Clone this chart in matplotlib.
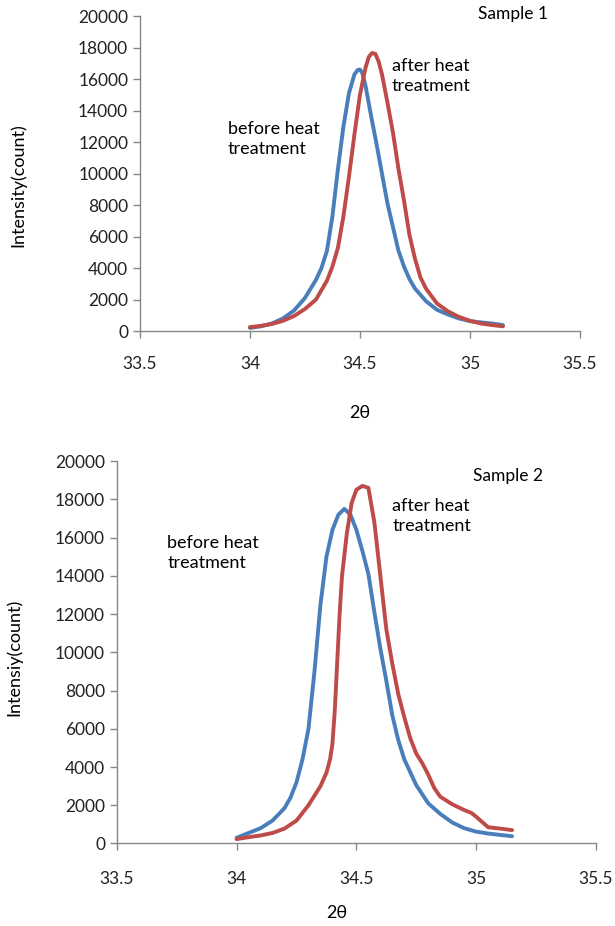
import matplotlib
matplotlib.use("Agg")
import matplotlib.pyplot as plt

plt.rcParams['font.family'] = ['Lato', 'DejaVu Sans']

BLUE = '#4A7EBB'
RED = '#BE4B48'
GRAY = '#878787'

# Sample 1
s1_before_x = [34.00, 34.05, 34.10, 34.15, 34.20, 34.25, 34.30, 34.325, 34.35, 34.375,
               34.40, 34.425, 34.45, 34.475, 34.49, 34.50, 34.51, 34.525, 34.55, 34.575,
               34.60, 34.625, 34.65, 34.675, 34.70, 34.725, 34.75, 34.80, 34.85, 34.90,
               34.95, 35.00, 35.05, 35.10, 35.15]
s1_before_y = [200, 300, 480, 800, 1300, 2100, 3250, 4000, 5100, 7300,
               10300, 13000, 15100, 16300, 16580, 16600, 16400, 15600, 13700, 11900,
               10000, 8100, 6600, 5100, 4100, 3300, 2700, 1900, 1350, 1050,
               800, 630, 550, 480, 380]
s1_after_x = [34.00, 34.05, 34.10, 34.15, 34.20, 34.25, 34.30, 34.35, 34.375, 34.40,
              34.425, 34.45, 34.475, 34.50, 34.525, 34.54, 34.555, 34.57, 34.585, 34.60,
              34.625, 34.65, 34.675, 34.70, 34.725, 34.75, 34.775, 34.80, 34.85, 34.90,
              34.95, 35.00, 35.05, 35.10, 35.15]
s1_after_y = [250, 330, 450, 650, 950, 1400, 2000, 3200, 4100, 5300,
              7300, 9800, 12500, 15000, 16700, 17400, 17650, 17600, 17100, 16300,
              14500, 12600, 10300, 8300, 6100, 4600, 3400, 2700, 1750, 1250,
              900, 650, 480, 380, 300]

# Sample 2
s2_before_x = [34.00, 34.05, 34.10, 34.15, 34.20, 34.225, 34.25, 34.275, 34.30, 34.325,
               34.35, 34.375, 34.40, 34.425, 34.45, 34.475, 34.50, 34.525, 34.55, 34.575,
               34.60, 34.625, 34.65, 34.675, 34.70, 34.75, 34.80, 34.85, 34.90, 34.95,
               35.00, 35.05, 35.10, 35.15]
s2_before_y = [300, 550, 800, 1200, 1850, 2400, 3200, 4400, 6000, 9000,
               12500, 15000, 16400, 17200, 17500, 17200, 16400, 15300, 14100, 12100,
               10200, 8500, 6700, 5400, 4400, 3050, 2100, 1550, 1100, 800,
               620, 520, 450, 380]
s2_after_x = [34.00, 34.05, 34.10, 34.15, 34.20, 34.25, 34.30, 34.35, 34.375, 34.39,
              34.40, 34.41, 34.42, 34.43, 34.44, 34.46, 34.48, 34.50, 34.525, 34.55,
              34.575, 34.60, 34.625, 34.65, 34.675, 34.70, 34.725, 34.75, 34.775, 34.80,
              34.825, 34.85, 34.90, 34.95, 34.98, 35.00, 35.05, 35.10, 35.15]
s2_after_y = [230, 330, 420, 550, 780, 1200, 2000, 3000, 3700, 4400,
              5200, 7000, 9500, 12000, 14000, 16200, 17800, 18500, 18700, 18600,
              16800, 14000, 11200, 9400, 7800, 6600, 5500, 4700, 4200, 3600,
              2900, 2450, 2050, 1750, 1600, 1400, 850, 780, 700]

x_ticks = [33.5, 34, 34.5, 35, 35.5]
x_ticklabels = ['33.5', '34', '34.5', '35', '35.5']
y_ticks = list(range(0, 20001, 2000))

fig = plt.figure(figsize=(6.15, 9.26), dpi=100)
ax1 = fig.add_axes([0.2276, 0.6425, 0.7154, 0.3402])
ax2 = fig.add_axes([0.190, 0.0891, 0.779, 0.413])


def style(ax, xpad):
    ax.set_xlim(33.5, 35.5)
    ax.set_ylim(0, 20000)
    ax.set_xticks(x_ticks)
    ax.set_xticklabels(x_ticklabels)
    ax.set_yticks(y_ticks)
    for side in ['top', 'right']:
        ax.spines[side].set_visible(False)
    for side in ['left', 'bottom']:
        ax.spines[side].set_color(GRAY)
        ax.spines[side].set_linewidth(1.0)
    ax.tick_params(axis='both', colors=GRAY, labelcolor='#222222', labelsize=12.5,
                   length=5, width=1.0, direction='out')
    ax.tick_params(axis='x', pad=xpad)


def curve(ax, xs, ys, color):
    ax.plot(xs, ys, color=color, lw=2.8, solid_capstyle='round', solid_joinstyle='round')


style(ax1, 13)
curve(ax1, s1_before_x, s1_before_y, BLUE)
curve(ax1, s1_after_x, s1_after_y, RED)
ax1.set_xlabel('2θ', fontsize=13)
ax1.xaxis.set_label_coords(0.5, -0.235)
ax1.set_ylabel('Intensity(count)', fontsize=13)
ax1.yaxis.set_label_coords(-0.259, 0.463)
ax1.text(35.036, 20130, 'Sample 1', fontsize=12.5, ha='left', va='center', clip_on=False)
ax1.text(34.645, 16190, 'after heat\ntreatment', fontsize=13, ha='left', va='center',
         linespacing=1.3)
ax1.text(33.9, 12220, 'before heat\ntreatment', fontsize=13, ha='left', va='center',
         linespacing=1.3)

style(ax2, 15)
curve(ax2, s2_before_x, s2_before_y, BLUE)
curve(ax2, s2_after_x, s2_after_y, RED)
ax2.set_xlabel('2θ', fontsize=13)
ax2.xaxis.set_label_coords(0.46, -0.16)
ax2.set_ylabel('Intensiy(count)', fontsize=13)
ax2.yaxis.set_label_coords(-0.198, 0.4876)
ax2.text(34.985, 19220, 'Sample 2', fontsize=12.5, ha='left', va='center', clip_on=False)
ax2.text(34.65, 17150, 'after heat\ntreatment', fontsize=13, ha='left', va='center',
         linespacing=1.3)
ax2.text(33.71, 15190, 'before heat\ntreatment', fontsize=13, ha='left', va='center',
         linespacing=1.3)

fig.savefig('out.png', dpi=100)
